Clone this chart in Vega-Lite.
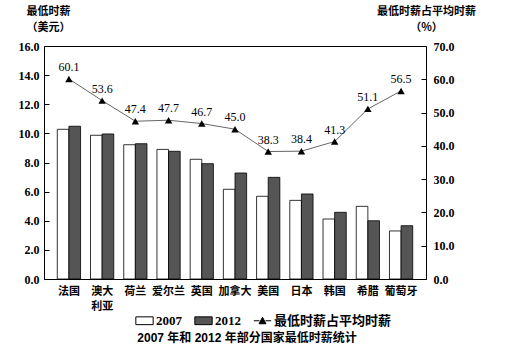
{
  "$schema": "https://vega.github.io/schema/vega-lite/v6.json",
  "width": 382,
  "height": 233,
  "autosize": {"type": "none"},
  "padding": {"left": 44, "top": 46, "right": 79, "bottom": 75},
  "background": "#ffffff",
  "config": {
    "view": {"stroke": "#000000", "strokeWidth": 1},
    "font": "Liberation Serif, Noto Sans CJK SC",
    "axis": {"grid": false, "domain": false, "labelColor": "#000", "titleColor": "#000", "tickColor": "#000"}
  },
  "title": {
    "text": "2007 年和 2012 年部分国家最低时薪统计",
    "orient": "bottom",
    "anchor": "middle",
    "font": "Liberation Sans, Noto Sans CJK SC",
    "fontSize": 12,
    "fontWeight": "bold",
    "color": "#000",
    "offset": 5,
    "dx": 12
  },
  "datasets": {
    "bars": [
      {"country": "法国", "year": "2007", "wage": 10.28},
      {"country": "法国", "year": "2012", "wage": 10.49},
      {"country": "澳大利亚", "year": "2007", "wage": 9.87},
      {"country": "澳大利亚", "year": "2012", "wage": 9.96},
      {"country": "荷兰", "year": "2007", "wage": 9.22},
      {"country": "荷兰", "year": "2012", "wage": 9.29},
      {"country": "爱尔兰", "year": "2007", "wage": 8.9},
      {"country": "爱尔兰", "year": "2012", "wage": 8.77},
      {"country": "英国", "year": "2007", "wage": 8.22},
      {"country": "英国", "year": "2012", "wage": 7.92},
      {"country": "加拿大", "year": "2007", "wage": 6.16},
      {"country": "加拿大", "year": "2012", "wage": 7.28},
      {"country": "美国", "year": "2007", "wage": 5.68},
      {"country": "美国", "year": "2012", "wage": 6.98},
      {"country": "日本", "year": "2007", "wage": 5.4},
      {"country": "日本", "year": "2012", "wage": 5.84},
      {"country": "韩国", "year": "2007", "wage": 4.12},
      {"country": "韩国", "year": "2012", "wage": 4.58},
      {"country": "希腊", "year": "2007", "wage": 4.99},
      {"country": "希腊", "year": "2012", "wage": 4.0},
      {"country": "葡萄牙", "year": "2007", "wage": 3.3},
      {"country": "葡萄牙", "year": "2012", "wage": 3.66}
    ],
    "ratio": [
      {"country": "法国", "pct": 60.1, "series": "最低时薪占平均时薪"},
      {"country": "澳大利亚", "pct": 53.6, "series": "最低时薪占平均时薪"},
      {"country": "荷兰", "pct": 47.4, "series": "最低时薪占平均时薪"},
      {"country": "爱尔兰", "pct": 47.7, "series": "最低时薪占平均时薪"},
      {"country": "英国", "pct": 46.7, "series": "最低时薪占平均时薪"},
      {"country": "加拿大", "pct": 45.0, "series": "最低时薪占平均时薪"},
      {"country": "美国", "pct": 38.3, "series": "最低时薪占平均时薪"},
      {"country": "日本", "pct": 38.4, "series": "最低时薪占平均时薪"},
      {"country": "韩国", "pct": 41.3, "series": "最低时薪占平均时薪"},
      {"country": "希腊", "pct": 51.1, "series": "最低时薪占平均时薪"},
      {"country": "葡萄牙", "pct": 56.5, "series": "最低时薪占平均时薪"}
    ]
  },
  "layer": [
    {
      "data": {"name": "bars"},
      "mark": {"type": "bar", "stroke": "#000000", "strokeWidth": 0.8},
      "encoding": {
        "x": {
          "field": "country", "type": "nominal",
          "sort": ["法国", "澳大利亚", "荷兰", "爱尔兰", "英国", "加拿大", "美国", "日本", "韩国", "希腊", "葡萄牙"],
          "scale": {"paddingInner": 0.3, "paddingOuter": 0.4},
          "axis": {
            "title": null, "labelAngle": 0, "ticks": false, "tickSize": 0, "labelPadding": 6,
            "labelFont": "Noto Sans CJK SC", "labelFontSize": 11, "labelFontWeight": "bold",
            "labelLineHeight": 15, "labelBaseline": "top",
            "labelExpr": "datum.label == '澳大利亚' ? ['澳大', '利亚'] : datum.label"
          }
        },
        "xOffset": {"field": "year", "type": "nominal"},
        "y": {
          "field": "wage", "type": "quantitative",
          "scale": {"domain": [0, 16]},
          "axis": {
            "title": ["最低时薪", "（美元）"], "titleAngle": 0, "titleX": 4, "titleY": -41,
            "titleAlign": "center", "titleBaseline": "top", "titleFont": "Noto Sans CJK SC",
            "titleFontSize": 11, "titleFontWeight": "bold", "titleLineHeight": 16,
            "values": [0, 2, 4, 6, 8, 10, 12, 14, 16], "format": ".1f",
            "labelFontSize": 12, "labelFontWeight": "bold", "tickSize": -5, "labelPadding": 10
          }
        },
        "color": {
          "field": "year", "type": "nominal",
          "scale": {"domain": ["2007", "2012", "最低时薪占平均时薪"], "range": ["#ffffff", "#555555", "#000000"]},
          "legend": {
            "orient": "none", "direction": "horizontal", "legendX": 91, "legendY": 265,
            "title": null, "symbolStrokeColor": "#000", "symbolStrokeWidth": 1,
            "symbolSize": 300, "symbolType": "M-1,-0.45H1V0.45H-1Z", "symbolOpacity": 1,
            "labelFontSize": 13, "labelFontWeight": "bold", "labelOffset": 2, "columnPadding": 10,
            "labelColor": "#000",
            "encode": {"symbols": {"update": {"shape": {"signal": "datum.label === '最低时薪占平均时薪' ? 'M-1,0H-0.35M0.35,0H1M0,-0.4L0.4,0.35H-0.4Z' : 'M-1,-0.45H1V0.45H-1Z'"}}}}
          }
        }
      }
    },
    {
      "data": {"name": "ratio"},
      "encoding": {
        "x": {"field": "country", "type": "nominal", "sort": ["法国", "澳大利亚", "荷兰", "爱尔兰", "英国", "加拿大", "美国", "日本", "韩国", "希腊", "葡萄牙"]},
        "y": {
          "field": "pct", "type": "quantitative",
          "scale": {"domain": [0, 70]},
          "axis": {
            "orient": "right",
            "title": ["最低时薪占平均时薪", "（%）"], "titleAngle": 0, "titleX": 0, "titleY": -41,
            "titleAlign": "center", "titleBaseline": "top", "titleFont": "Noto Sans CJK SC",
            "titleFontSize": 11, "titleFontWeight": "bold", "titleLineHeight": 16,
            "values": [0, 10, 20, 30, 40, 50, 60, 70], "format": ".1f",
            "labelFontSize": 12, "labelFontWeight": "bold", "tickSize": -5, "labelPadding": 12
          }
        }
      },
      "layer": [
        {"mark": {"type": "line", "color": "#666666", "strokeWidth": 1}},
        {
          "mark": {"type": "point", "shape": "triangle-up", "filled": true, "size": 55, "opacity": 1},
          "encoding": {"color": {"field": "series", "type": "nominal"}}
        },
        {
          "mark": {"type": "text", "dy": -12, "fontSize": 12, "color": "#000"},
          "encoding": {"text": {"field": "pct", "type": "quantitative", "format": ".1f"}}
        }
      ]
    }
  ],
  "resolve": {"scale": {"y": "independent"}}
}
